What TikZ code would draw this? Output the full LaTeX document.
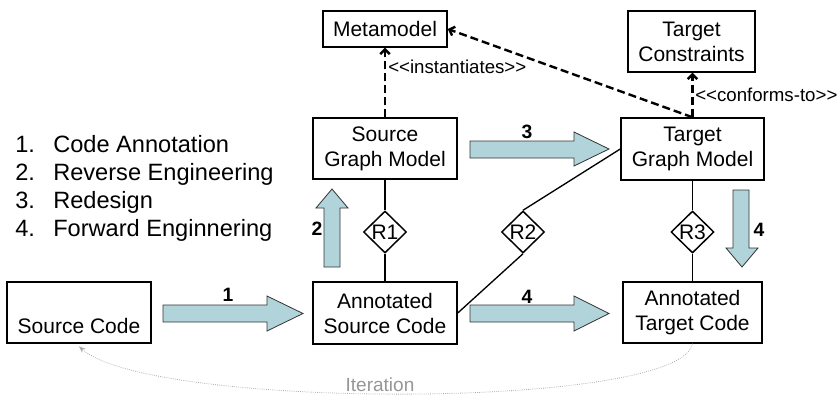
\documentclass[tikz,border=0pt]{standalone}
\usepackage{fontspec}
\setmainfont{Liberation Sans}
\usetikzlibrary{shapes.geometric,arrows.meta}
\definecolor{arrowfill}{RGB}{177,212,218}
\definecolor{itergray}{RGB}{150,150,150}
\begin{document}
\begin{tikzpicture}[x=0.75pt,y=-0.75pt,
 box/.style={draw,line width=1.1pt,inner sep=0pt,align=center,font=\fontsize{15.75}{18.75}\selectfont},
 rel/.style={draw,diamond,line width=1.1pt,inner sep=0pt,minimum width=32.25pt,minimum height=31.5pt,font=\fontsize{15.75}{18.75}\selectfont},
 conn/.style={line width=1pt},
 dep/.style={line width=1.8pt,dash pattern=on 6pt off 3pt,-{Straight Barb[length=3.5pt,width=7pt]}},
 blk/.style={draw=black!80,line width=0.6pt,fill=arrowfill},
 num/.style={inner sep=0pt,font=\fontsize{14.5}{16}\selectfont\bfseries},
 leg/.style={anchor=base west,inner sep=0pt,font=\fontsize{17.7}{21}\selectfont},
 stereo/.style={anchor=west,inner sep=0pt,font=\fontsize{14}{16}\selectfont},
 iter/.style={itergray!80,line width=0.6pt,densely dotted,-{Stealth[length=5pt,width=4pt]}}]
\useasboundingbox (0,0) rectangle (840,397);

% legend
\node[leg] (l1n) at (15,152) {1.};
\node[leg] (l1t) at (53,152) {Code Annotation};
\node[leg] (l2n) at (15,180) {2.};
\node[leg] (l2t) at (53,180) {Reverse Engineering};
\node[leg] (l3n) at (15,208) {3.};
\node[leg] (l3t) at (53,208) {Redesign};
\node[leg] (l4n) at (15,236) {4.};
\node[leg] (l4t) at (53,236) {Forward Enginnering};

% boxes
\node[box,minimum width=93pt,minimum height=27pt] (meta) at (385,29) {Metamodel};
\node[box,minimum width=95.25pt,minimum height=45.75pt] (tc) at (691.5,41.5) {Target\\Constraints};
\node[box,minimum width=108pt,minimum height=45.75pt] (sgm) at (385,148.5) {Source\\Graph Model};
\node[box,minimum width=107.25pt,minimum height=46.5pt] (tgm) at (692.5,149) {Target\\Graph Model};
\node[box,minimum width=108pt,minimum height=46.5pt] (asc) at (385,313) {Annotated\\Source Code};
\node[box,minimum width=104.25pt,minimum height=45.75pt] (atc) at (692.5,312.5) {Annotated\\Target Code};
\node[box,minimum width=108pt,minimum height=45.75pt] (sc) at (79,312.5) {\strut\\Source Code};

% relations
\node[rel] (r1) at (385,232) {R1};
\node[rel] (r2) at (523,232) {R2};
\node[rel] (r3) at (692.5,232) {R3};
\draw[conn] (sgm.south) -- (r1.north);
\draw[conn] (r1.south) -- (asc.north);
\draw[conn] (tgm.south) -- (r3.north);
\draw[conn] (r3.south) -- (atc.north);
\draw[conn] (asc.east) -- (r2.south);
\draw[conn] (r2.north) -- (tgm.west);

% dependencies
\draw[dep] (sgm.north) -- (meta.south);
\draw[dep] (tgm.north) -- (tgm.north |- tc.south);
\draw[dep] (tgm.north) -- (meta.east);
\node[stereo] (inst) at (388,67) {<\kern0pt<instantiates>\kern0pt>};
\node[stereo] (conf) at (695,95) {<\kern0pt<conforms-to>\kern0pt>};

% block arrows
\draw[blk] (163,305) -- (267,305) -- (267,296) -- (303,313.5) -- (267,331) -- (267,322) -- (163,322) -- cycle;
\draw[blk] (470,305) -- (574,305) -- (574,296) -- (609,313.5) -- (574,331) -- (574,322) -- (470,322) -- cycle;
\draw[blk] (470,141) -- (574,141) -- (574,132) -- (609,149) -- (574,166) -- (574,158) -- (470,158) -- cycle;
\draw[blk] (324,267) -- (324,208) -- (316,208) -- (332,189) -- (348,208) -- (340,208) -- (340,267) -- cycle;
\draw[blk] (733,190) -- (733,248) -- (726,248) -- (742,267) -- (758,248) -- (749,248) -- (749,190) -- cycle;
\node[num] (n1) at (228,295) {1};
\node[num] (n2) at (317,229) {2};
\node[num] (n3) at (527,132) {3};
\node[num] (n4a) at (527,297) {4};
\node[num] (n4b) at (759,230) {4};

% iteration
\draw[iter] (atc.south) .. controls (680,410) and (150,410) .. ([yshift=-2pt]sc.south);
\node[inner sep=0pt,text=itergray,font=\fontsize{14.25}{16}\selectfont] (itl) at (380,385) {Iteration};
\end{tikzpicture}
\end{document}
